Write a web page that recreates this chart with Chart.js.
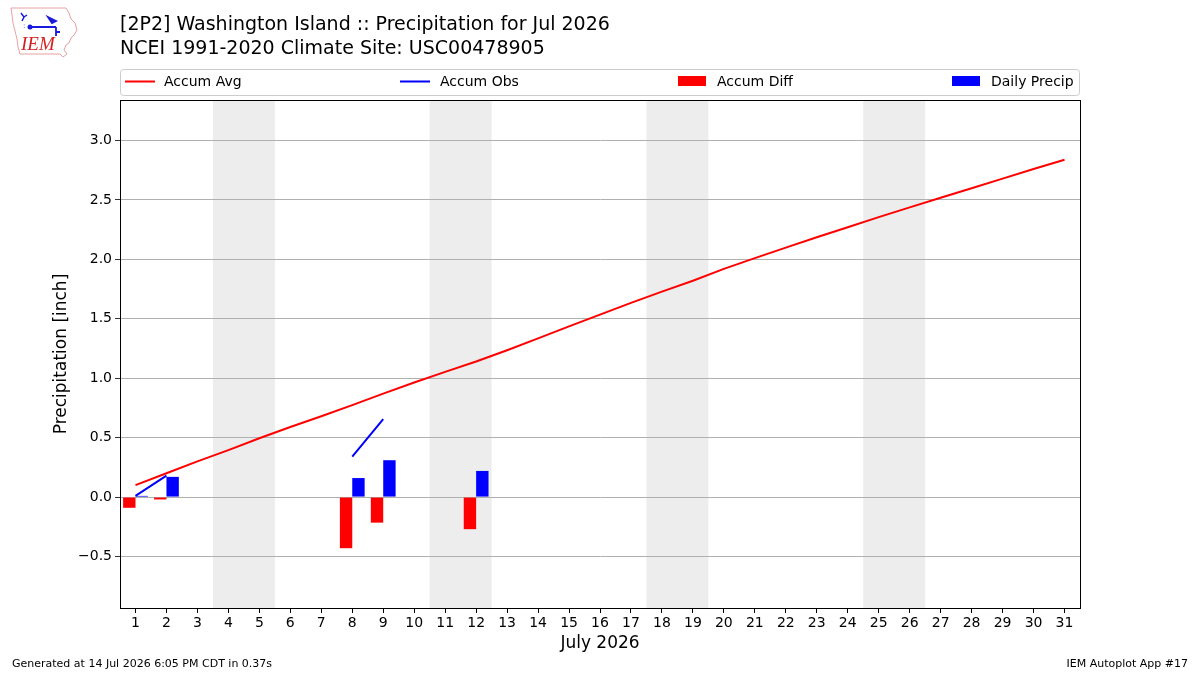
<!DOCTYPE html>
<html>
<head>
<meta charset="utf-8">
<script src="https://cdn.jsdelivr.net/npm/chart.js@4/dist/chart.umd.min.js"></script>
<style>
  html, body { margin: 0; padding: 0; background: #fff; }
  #wrap { position: relative; width: 1200px; height: 675px; overflow: hidden; font-family: 'DejaVu Sans', sans-serif; }
  #chart { position: absolute; left: 0; top: 0; }
  .t { position: absolute; white-space: nowrap; color: #000; }
  #title1 { left: 120px; top: 12px; font-size: 19px; }
  #title2 { left: 120px; top: 36px; font-size: 19px; }
  #foot1 { left: 12px; top: 657px; font-size: 11px; }
  #foot2 { right: 12px; top: 657px; font-size: 11px; }
  #logo { position: absolute; left: 8px; top: 5px; }
</style>
</head>
<body>
<div id="wrap">
  <canvas id="chart" width="1200" height="675"></canvas>
  <svg id="logo" width="74" height="56" viewBox="0 0 74 56">
    <path d="M3,3 L58,3 L61,8 L63,14 L67,18 L69,25 L66,30 L63,33 L61,38 L58,40 L56,45 L59,49 L55,52 L52,49 L12,49 L10,42 L9,34 L7,26 L5,18 L4,10 Z" fill="none" stroke="#e8a0a0" stroke-width="1"/>
    <path d="M13,8 L16,12 L14,16 M16,12 L19,10" stroke="#1a1adc" stroke-width="1.5" fill="none"/>
    <circle cx="22" cy="22" r="2.5" fill="#1a1adc"/>
    <path d="M22,22 L48,22 M40,12 L48,16 L44,18 Z M48,22 L48,31 M48,27 L52,27" stroke="#1a1adc" stroke-width="1.8" fill="#1a1adc"/>
    <text x="15" y="23" font-size="7" fill="#1a1adc" font-family="DejaVu Sans">:</text>
    <text x="13" y="45" font-size="19" font-style="italic" fill="#d42020" font-family="Liberation Serif, DejaVu Serif, serif">IEM</text>
  </svg>
  <div class="t" id="title1">[2P2] Washington Island :: Precipitation for Jul 2026</div>
  <div class="t" id="title2">NCEI 1991-2020 Climate Site: USC00478905</div>
  <div class="t" id="foot1">Generated at 14 Jul 2026 6:05 PM CDT in 0.37s</div>
  <div class="t" id="foot2">IEM Autoplot App #17</div>
</div>
<script>
// ---- Data ----
const dayLabels = ['1','2','3','4','5','6','7','8','9','10','11','12','13','14','15','16','17','18','19','20','21','22','23','24','25','26','27','28','29','30','31'];
const accumAvg = [0.10, 0.20, 0.30, 0.395, 0.495, 0.59, 0.68, 0.773, 0.87, 0.964, 1.053, 1.14, 1.235, 1.335, 1.436, 1.535, 1.634, 1.728, 1.82, 1.92, 2.01, 2.098, 2.185, 2.27, 2.355, 2.437, 2.518, 2.598, 2.679, 2.76, 2.838];
const accumObs = [0.01, 0.18, null, null, null, null, null, 0.34, 0.655, null, null, 0.87, null, null, null, null, null, null, null, null, null, null, null, null, null, null, null, null, null, null, null];
const accumDiff = [-0.09, -0.02, null, null, null, null, null, -0.43, -0.215, null, null, -0.27, null, null, null, null, null, null, null, null, null, null, null, null, null, null, null, null, null, null, null];
const dailyPrecip = [0.01, 0.17, null, null, null, null, null, 0.16, 0.31, null, null, 0.22, null, null, null, null, null, null, null, null, null, null, null, null, null, null, null, null, null, null, null];
const weekendSpans = [[4, 5], [11, 12], [18, 19], [25, 26]];
const legendItems = [
  { label: 'Accum Avg', type: 'line', color: '#ff0000' },
  { label: 'Accum Obs', type: 'line', color: '#0000ff' },
  { label: 'Accum Diff', type: 'box', color: '#ff0000' },
  { label: 'Daily Precip', type: 'box', color: '#0000ff' }
];
const yMin = -0.933, yMax = 3.34;

Chart.defaults.font.family = "'DejaVu Sans', sans-serif";
Chart.defaults.color = '#000';

const weekendPlugin = {
  id: 'weekend',
  beforeDraw(chart) {
    const { ctx, chartArea, scales } = chart;
    ctx.save();
    ctx.fillStyle = '#ededed';
    weekendSpans.forEach(([a, b]) => {
      const x0 = scales.x.getPixelForValue(a - 1 - 0.5);
      const x1 = scales.x.getPixelForValue(b - 1 + 0.5);
      ctx.fillRect(x0, chartArea.top, x1 - x0, chartArea.bottom - chartArea.top);
    });
    ctx.restore();
  }
};

const framePlugin = {
  id: 'frame',
  afterDraw(chart) {
    const { ctx, chartArea } = chart;
    ctx.save();
    ctx.strokeStyle = '#000';
    ctx.lineWidth = 1;
    ctx.strokeRect(Math.round(chartArea.left) + 0.5, Math.round(chartArea.top) + 0.5,
      Math.round(chartArea.right - chartArea.left), Math.round(chartArea.bottom - chartArea.top));
    // legend box
    const lx = 120.5, ly = 69.5, lw = 959, lh = 26;
    ctx.strokeStyle = '#cccccc';
    ctx.beginPath();
    ctx.roundRect(lx, ly, lw, lh, 3);
    ctx.stroke();
    const pos = [
      { sx: 125, tx: 164 },
      { sx: 400, tx: 440 },
      { sx: 678, tx: 717 },
      { sx: 952, tx: 991 }
    ];
    ctx.font = "14px 'DejaVu Sans'";
    ctx.textBaseline = 'middle';
    ctx.fillStyle = '#000';
    legendItems.forEach((it, i) => {
      const p = pos[i];
      if (it.type === 'line') {
        ctx.strokeStyle = it.color;
        ctx.lineWidth = 2;
        ctx.beginPath();
        ctx.moveTo(p.sx, 81.5);
        ctx.lineTo(p.sx + 30, 81.5);
        ctx.stroke();
      } else {
        ctx.fillStyle = it.color;
        ctx.fillRect(p.sx, 76, 28, 10);
      }
      ctx.fillStyle = '#000';
      ctx.fillText(it.label, p.tx, 82);
    });
    ctx.restore();
  }
};

new Chart(document.getElementById('chart'), {
  data: {
    labels: dayLabels,
    datasets: [
      { type: 'line', label: 'Accum Avg', data: accumAvg, borderColor: '#ff0000', borderWidth: 2, pointRadius: 0, tension: 0, spanGaps: false },
      { type: 'line', label: 'Accum Obs', data: accumObs, borderColor: '#0000ff', borderWidth: 2, pointRadius: 0, tension: 0, spanGaps: false },
      { type: 'bar', label: 'Accum Diff', data: accumDiff, backgroundColor: '#ff0000', borderWidth: 0, categoryPercentage: 0.8, barPercentage: 1.0 },
      { type: 'bar', label: 'Daily Precip', data: dailyPrecip, backgroundColor: '#0000ff', borderWidth: 0, categoryPercentage: 0.8, barPercentage: 1.0 }
    ]
  },
  options: {
    responsive: false,
    animation: false,
    devicePixelRatio: 1,
    layout: { padding: { top: 100, right: 120, left: 0, bottom: 0 } },
    plugins: { legend: { display: false }, title: { display: false }, tooltip: { enabled: false } },
    scales: {
      x: {
        type: 'category',
        offset: true,
        grid: { display: true, drawOnChartArea: false, drawTicks: true, tickLength: 5, tickColor: '#000', offset: false },
        border: { display: true, color: '#000', width: 1 },
        ticks: { font: { size: 14 }, color: '#000', padding: 2, maxRotation: 0, autoSkip: false },
        title: { display: true, text: 'July 2026', font: { size: 17 }, color: '#000', padding: { top: 0, bottom: 21 } },
        afterFit(scale) { scale.height = 67; }
      },
      y: {
        type: 'linear',
        min: yMin,
        max: yMax,
        grid: { color: '#b0b0b0', lineWidth: 1, drawTicks: true, tickLength: 5, tickColor: '#333' },
        border: { display: true, color: '#000', width: 1 },
        ticks: {
          stepSize: 0.5,
          includeBounds: false,
          font: { size: 14 },
          color: '#000',
          padding: 3,
          callback: (v) => Number(v).toFixed(1).replace('-', '\u2212')
        },
        title: { display: true, text: 'Precipitation [inch]', font: { size: 17 }, color: '#000', padding: { top: 51, bottom: 0 } },
        afterFit(scale) { scale.width = 120; }
      }
    }
  },
  plugins: [weekendPlugin, framePlugin]
});
</script>
</body>
</html>
